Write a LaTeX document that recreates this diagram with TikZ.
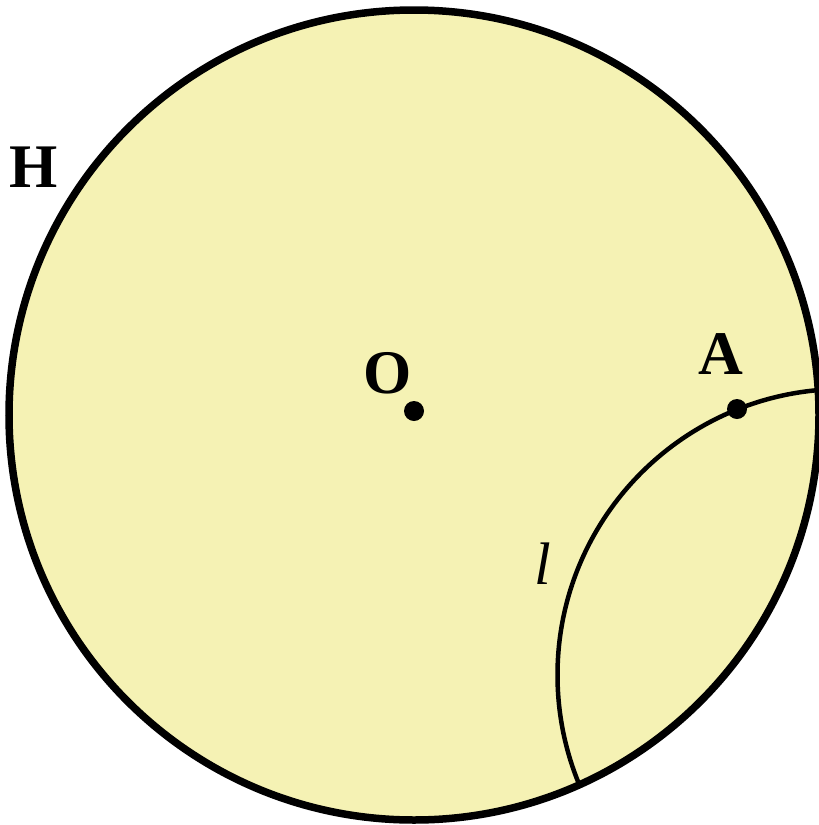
\documentclass[tikz,border=0pt]{standalone}
\usepackage{fontspec}
\setmainfont{Liberation Serif}
\definecolor{diskfill}{RGB}{245,242,180}
\begin{document}
\begin{tikzpicture}[x=1pt,y=-1pt,
  dot/.style={circle,fill=black,inner sep=0pt,minimum size=20pt},
  lbl/.style={font=\fontsize{62}{64}\selectfont\bfseries,inner sep=0pt}]
\useasboundingbox (0,0) rectangle (819,825);
\coordinate (C) at (414,415);
\begin{scope}
  \clip (C) circle (405);
  \fill[diskfill] (C) circle (405);
  \draw[line width=4.5pt] (843.5,675) circle (286);
\end{scope}
\draw[line width=7.5pt] (C) circle (405);
\node[dot] (O) at (414,411) {};
\node[dot] (Apt) at (737,409) {};
\node[lbl] (Olbl) at (388,373) {O};
\node[lbl] (Albl) at (721,354) {A};
\node[lbl] (Hlbl) at (34,167) {H};
\node[font=\fontsize{60}{62}\selectfont\itshape,inner sep=0pt] (llbl) at (543,564) {l};
\end{tikzpicture}
\end{document}
